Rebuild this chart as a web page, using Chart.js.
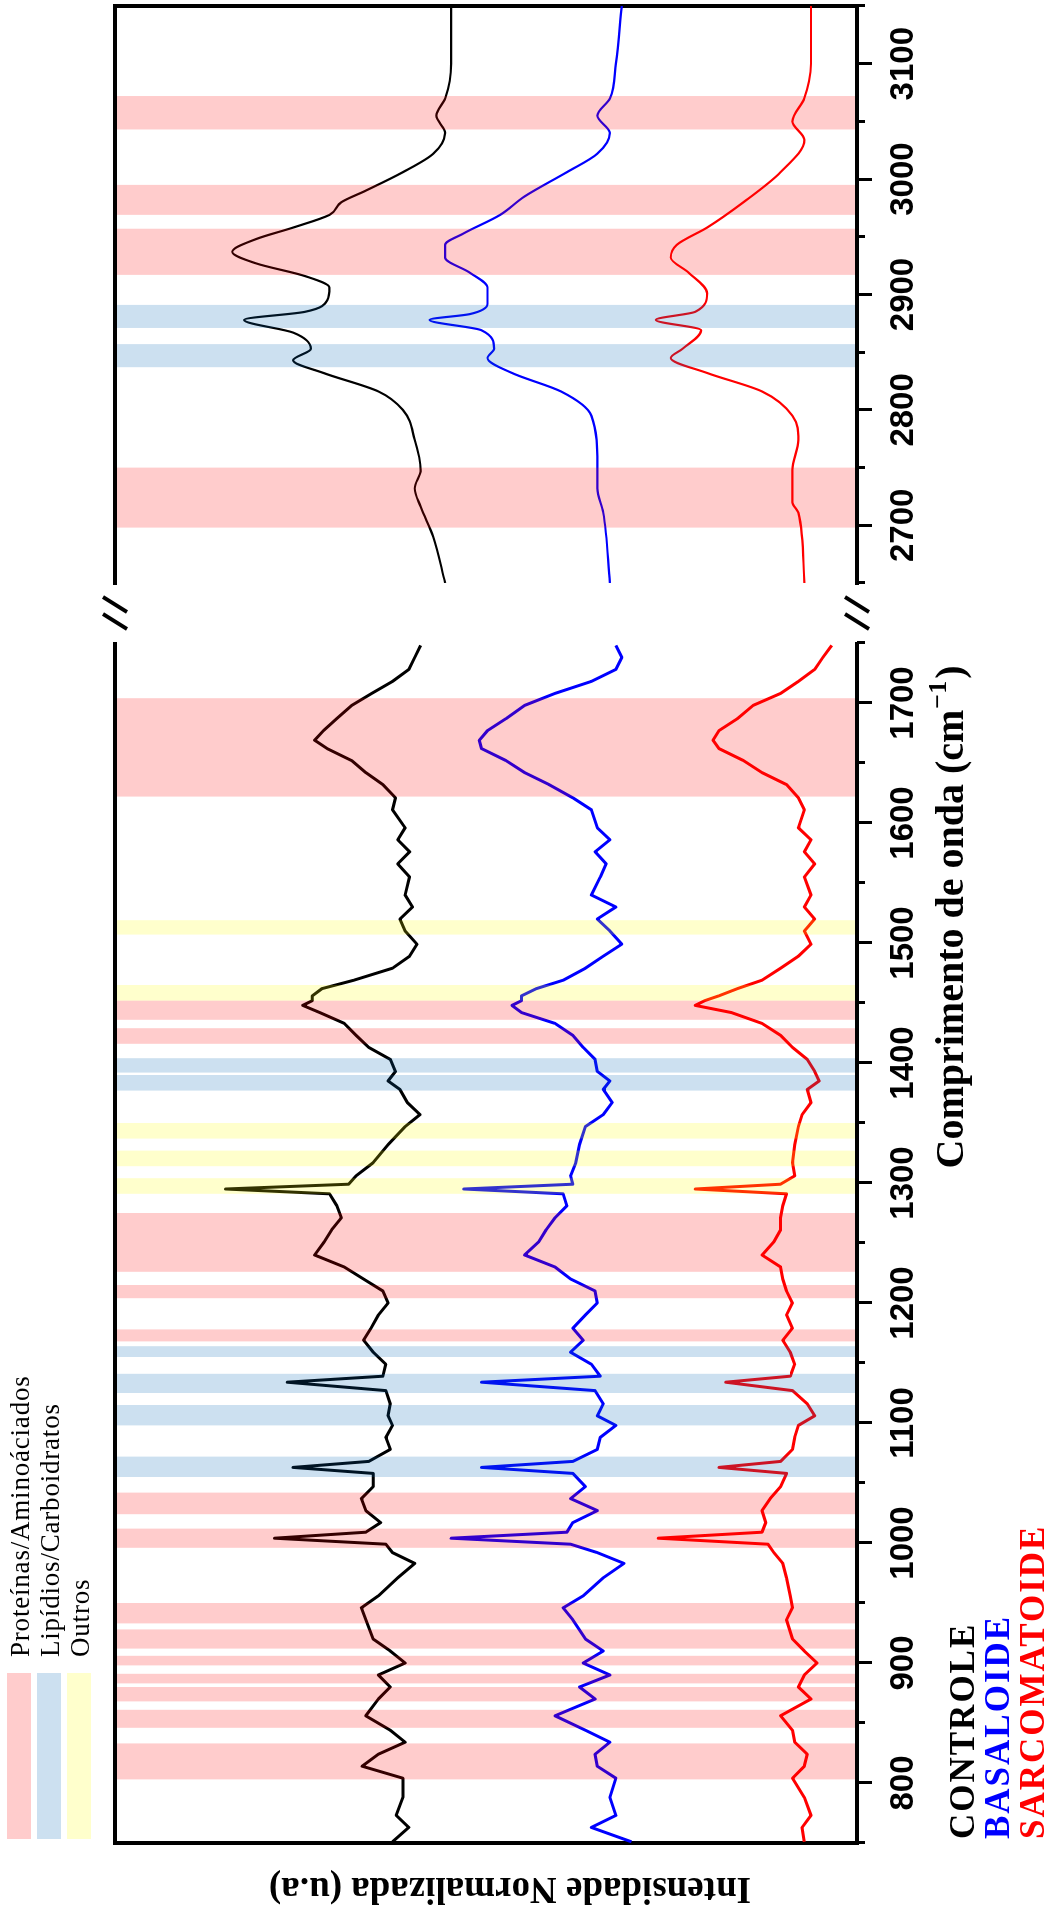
<!DOCTYPE html>
<html><head><meta charset="utf-8">
<script src="https://cdn.jsdelivr.net/npm/chart.js@4.4.1/dist/chart.umd.min.js"></script>
<style>
html,body{margin:0;padding:0;background:#fff;overflow:hidden;width:1046px;height:1912px;}
#stage{position:absolute;left:0;top:0;width:1912px;height:1046px;transform-origin:0 0;transform:translateY(1912px) rotate(-90deg);background:#fff;}
#ca{position:absolute;left:0;top:0;}
#cb{position:absolute;left:1300px;top:0;}
</style></head><body>
<div id="stage"><canvas id="ca" width="1330" height="1046"></canvas><canvas id="cb" width="612" height="1046"></canvas></div>
<script>
// ---------- data ----------
const seriesNames = ['CONTROLE', 'BASALOIDE', 'SARCOMATOIDE'];
const legendLabels = ['Proteínas/Aminoáciados', 'Lipídios/Carboidratos', 'Outros'];
const xTitle = 'Comprimento de onda (cm';
const xTitleSup = '\u22121';
const yTitle = 'Intensidade Normalizada (u.a)';

// fingerprint region (cm-1)
const lowW = [751,763,773,788,804,814,824,834,844,856,
  870,880,890,900,910,920,936,946,956,971,
  983,992,999,1004,1009,1017,1027,1037,1047,1058,
  1063,1068,1078,1088,1098,1106,1116,1127,1134,1139,
  1149,1159,1169,1179,1190,1200,1210,1220,1230,1240,
  1251,1261,1271,1281,1291,1295,1299,1306,1317,1332,
  1347,1357,1367,1378,1385,1393,1403,1413,1423,1433,
  1442,1448,1452,1456,1462,1469,1479,1489,1499,1510,
  1520,1530,1540,1555,1566,1576,1586,1596,1611,1621,
  1632,1642,1652,1662,1669,1677,1687,1698,1708,1718,
  1728,1738,1748];
const lowCtrl = [62.6,60.4,62.1,61.2,61.2,66.7,64.5,60.9,62.9,66.2,
  64.5,62.9,64.5,60.9,62.9,65.2,66.2,66.8,64.5,61.9,
  59.6,62.6,63.5,78.5,66.2,64.2,66.2,66.8,65.2,65.2,
  76.0,65.8,62.9,63.5,62.6,63.2,62.9,63.5,76.8,63.9,
  63.5,65.2,66.5,65.5,64.5,63.2,63.9,66.5,69.1,73.1,
  71.8,70.8,69.5,70.1,71.1,85.1,68.5,67.5,65.2,63.2,
  60.9,58.9,60.6,61.6,63.2,62.2,62.9,65.8,67.5,69.1,
  72.4,74.7,73.4,73.4,72.1,67.8,62.6,60.3,59.3,60.9,
  61.6,59.9,60.9,60.3,61.9,60.3,61.9,60.9,62.6,62.2,
  63.9,66.2,68.1,71.4,73.1,71.9,70.1,68.1,65.4,62.6,
  60.4,59.6,58.8];
const lowBas = [30.4,35.8,32.5,33.3,32.5,35.0,35.3,33.3,36.6,40.7,
  35.3,37.4,33.3,36.9,34.2,36.6,38.3,39.6,36.9,34.2,
  31.4,35.0,38.6,54.7,39.1,38.3,35.0,38.6,36.6,38.3,
  50.6,38.3,35.0,34.6,32.5,35.0,34.2,35.3,50.6,34.6,
  35.8,38.6,36.9,38.3,36.6,35.0,35.3,38.6,40.7,44.8,
  42.9,41.9,40.7,39.1,39.6,53.0,38.3,38.6,37.9,37.4,
  36.6,34.2,33.0,34.2,33.3,35.0,35.3,36.9,38.3,40.7,
  45.2,46.5,45.2,45.2,43.2,39.6,36.6,34.2,31.7,33.3,
  35.0,32.5,35.8,34.6,33.8,35.3,33.3,35.0,35.8,38.3,
  41.5,44.8,47.3,50.6,50.9,49.8,47.3,44.8,40.7,35.8,
  32.5,31.7,32.5];
const lowSar = [7.1,7.4,6.2,7.1,8.7,7.1,6.7,8.4,8.7,10.3,
  6.2,7.9,7.1,5.4,7.1,8.7,9.5,8.7,9.0,9.5,
  10.0,11.2,12.0,26.8,12.8,12.3,12.8,11.7,10.3,9.5,
  18.6,10.3,8.7,8.4,7.9,5.7,6.7,8.7,17.7,9.0,
  8.4,9.0,10.0,8.7,9.5,8.7,9.5,10.0,10.3,12.8,
  11.2,10.3,10.3,10.0,9.5,21.8,10.3,8.4,8.7,8.4,
  7.9,7.4,6.2,6.7,5.1,5.7,6.7,8.7,10.3,12.8,
  16.9,21.8,20.5,18.6,16.1,12.8,10.3,7.9,6.2,7.1,
  5.7,7.1,6.2,7.1,5.7,7.1,6.2,7.9,7.1,7.9,
  9.5,12.8,15.3,18.6,19.4,18.6,16.1,14.0,10.3,7.9,
  5.7,4.6,3.4];

// high-wavenumber region (cm-1)
const upCtrlW = [2650,2690,2716,2732,2748,2774,2800,2816,2832,2843,2853,2867,2878,2885,2895,2906,2916,2927,2937,2948,2958,2969,2980,2990,3006,3022,3040,3055,3070,3100,3150];
const upCtrl = [55.5,57.1,58.8,59.6,58.8,59.6,61.2,64.5,71.9,76.0,73.6,76.0,82.6,74.4,71.4,71.1,74.4,81.0,84.2,81.0,76.0,71.1,69.5,66.2,61.2,57.1,55.5,56.7,55.5,54.7,54.7];
const upBasW = [2650,2711,2732,2753,2795,2816,2832,2845,2853,2869,2878,2883,2892,2906,2919,2932,2943,2953,2969,2985,3006,3022,3040,3055,3070,3100,3150];
const upBas = [33.3,34.2,35.0,35.0,35.8,39.9,46.5,49.8,48.9,50.6,57.6,52.2,49.8,49.8,52.2,55.5,55.5,53.0,48.1,44.8,39.1,35.0,33.3,35.0,33.3,32.5,31.7];
const upSarW = [2650,2711,2720,2732,2748,2774,2795,2816,2832,2845,2853,2869,2878,2885,2901,2919,2932,2943,2958,2980,3006,3034,3050,3070,3100,3150];
const upSar = [7.1,7.9,8.7,8.7,8.7,7.9,8.7,12.8,20.2,25.1,23.5,21.0,27.1,21.8,20.2,22.7,25.1,24.3,20.2,15.3,10.3,7.1,8.7,7.1,6.2,6.2];

// shaded assignment bands [from, to] in cm-1
const lowProtBands = [[803,833],[846,861],[868,880],[883,891],[898,906],[912,928],[933,950],[996,1012],[1024,1042],[1168,1178],[1204,1215],[1226,1275],[1416,1429],[1436,1452],[1622,1704]];
const lowLipBands = [[1055,1072],[1098,1115],[1125,1141],[1155,1164],[1377,1390],[1392,1404]];
const lowOtherBands = [[1291,1304],[1314,1327],[1337,1350],[1452,1465],[1507,1519]];
const upProtBands = [[2698,2750],[2917,2957],[2969,2995],[3043,3072]];
const upLipBands = [[2837,2857],[2871,2891]];
const upOtherBands = [];

const lowMajorTicks = [800,900,1000,1100,1200,1300,1400,1500,1600,1700];
const lowMinorTicks = [750,850,950,1050,1150,1250,1350,1450,1550,1650,1750];
const upMajorTicks = [2700,2800,2900,3000,3100];
const upMinorTicks = [2650,2750,2850,2950,3050,3150];

// ---------- styling ----------
const SERIF = "'Liberation Serif','Times New Roman',serif";
const TICKFONT = {family: "'Liberation Sans Narrow','Liberation Sans',Arial,sans-serif", size: 33, weight: 'bold'};
const seriesColors = ['#000000', '#0000ff', '#ff0000'];
const bandColors = ['rgba(255,0,0,0.2)', 'rgba(0,101,179,0.2)', 'rgba(255,255,0,0.2)'];

function pts(w, v) { return w.map((x, i) => ({x: x, y: v[i]})); }

const bandPlugin = {
  id: 'bands',
  afterDatasetsDraw(chart, args, opts) {
    const {ctx, chartArea: a} = chart;
    const xs = chart.scales.x;
    ctx.save();
    opts.groups.forEach((g, k) => {
      ctx.fillStyle = bandColors[k];
      g.forEach(([lo, hi]) => {
        const p1 = xs.getPixelForValue(lo), p2 = xs.getPixelForValue(hi);
        ctx.fillRect(p1, a.top + 2, p2 - p1, a.bottom - a.top - 4);
      });
    });
    ctx.restore();
  }
};

const decoPlugin = {
  id: 'deco',
  afterDraw(chart, args, opts) {
    if (!opts.on) return;
    const ctx = chart.ctx, a = chart.chartArea;
    ctx.save();
    // axis-break marks
    ctx.strokeStyle = '#000'; ctx.lineWidth = 4; ctx.lineCap = 'butt';
    const mid = a.right + 30;
    [a.top, a.bottom].forEach(e => [mid + 8.5, mid - 8.5].forEach(c => {
      ctx.beginPath(); ctx.moveTo(c + 7.5, e - 12); ctx.lineTo(c - 7.5, e + 12); ctx.stroke();
    }));
    // legend
    ctx.textBaseline = 'alphabetic'; ctx.textAlign = 'left';
    legendLabels.forEach((t, i) => {
      ctx.fillStyle = '#fff'; ctx.fillRect(73, 7 + 30 * i, 166, 24);
      ctx.fillStyle = bandColors[i]; ctx.fillRect(73, 7 + 30 * i, 166, 24);
      ctx.fillStyle = '#000'; ctx.font = '27px ' + SERIF;
      ctx.letterSpacing = '0.8px';
      ctx.fillText(t, 255, 29 + 30 * i);
    });
    // series names
    ctx.letterSpacing = '2px';
    seriesNames.forEach((t, i) => {
      ctx.fillStyle = seriesColors[i]; ctx.font = 'bold 35px ' + SERIF;
      ctx.fillText(t, 73, 974 + 35 * i);
    });
    ctx.letterSpacing = '0px';
    // x axis title with superscript
    ctx.fillStyle = '#000';
    ctx.font = 'bold 40px ' + SERIF; const w1 = ctx.measureText(xTitle).width; const w3 = ctx.measureText(')').width;
    ctx.font = 'bold 26px ' + SERIF; const w2 = ctx.measureText(xTitleSup).width;
    const x0 = 995 - (w1 + w2 + w3 + 3) / 2, base = 963;
    ctx.font = 'bold 40px ' + SERIF; ctx.fillText(xTitle, x0, base);
    ctx.font = 'bold 26px ' + SERIF; ctx.fillText(xTitleSup, x0 + w1 + 1, base - 17);
    ctx.font = 'bold 40px ' + SERIF; ctx.fillText(')', x0 + w1 + w2 + 3, base);
    // y axis title (rotated)
    ctx.save();
    ctx.translate(24, 510); ctx.rotate(-Math.PI / 2);
    ctx.textAlign = 'center'; ctx.textBaseline = 'middle';
    ctx.font = 'bold 37px ' + SERIF; ctx.fillText(yTitle, 0, 0);
    ctx.restore();
    ctx.restore();
  }
};

function makeScales(min, max, major, minor, side) {
  return {
    x: {
      type: 'linear', position: 'bottom', min: min, max: max,
      afterBuildTicks: sc => { sc.ticks = major.map(v => ({value: v})); },
      afterFit: sc => { sc.height = 189; },
      grid: {display: true, drawOnChartArea: false, drawTicks: true, tickLength: 15, tickWidth: 3, tickColor: '#000'},
      border: {display: true, width: 4, color: '#000'},
      ticks: {color: '#000', font: TICKFONT, padding: 12, maxRotation: 0, autoSkip: false, callback: v => String(v)}
    },
    xMinor: {
      type: 'linear', position: {y: 0}, min: min, max: max,
      afterBuildTicks: sc => { sc.ticks = minor.map(v => ({value: v})); },
      grid: {display: true, drawOnChartArea: false, drawTicks: true, tickLength: 8, tickWidth: 3, tickColor: '#000'},
      border: {display: false},
      ticks: {display: false}
    },
    xTop: {
      type: 'linear', position: 'top', min: min, max: max,
      afterFit: sc => { sc.height = 0; },
      grid: {display: false},
      border: {display: true, width: 4, color: '#000'},
      ticks: {display: false}
    },
    y: {
      type: 'linear', position: side, min: 0, max: 100,
      afterFit: sc => { sc.width = side === 'left' ? 69 : 6; },
      grid: {display: false},
      border: {display: true, width: 4, color: '#000'},
      ticks: {display: false}
    }
  };
}

function makeDatasets(ws, is, width, smooth) {
  return ws.map((w, k) => ({
    label: seriesNames[k], data: pts(w, is[k]), borderColor: seriesColors[k],
    borderWidth: width, pointRadius: 0, tension: smooth ? 0.4 : 0,
    cubicInterpolationMode: smooth ? 'monotone' : 'default',
    borderJoinStyle: 'round',
    fill: false, xAxisID: 'x', yAxisID: 'y'
  }));
}

Chart.register(bandPlugin, decoPlugin);

new Chart(document.getElementById('ca'), {
  type: 'line',
  data: {datasets: makeDatasets([lowW, lowW, lowW], [lowCtrl, lowBas, lowSar], 3, false)},
  options: {
    responsive: false, animation: false, events: [],
    layout: {padding: {top: 115, left: 0, right: 61, bottom: 0}},
    scales: makeScales(750, 1750, lowMajorTicks, lowMinorTicks, 'left'),
    plugins: {legend: {display: false}, tooltip: {enabled: false},
      bands: {groups: [lowProtBands, lowLipBands, lowOtherBands]}, deco: {on: true}}
  }
});

new Chart(document.getElementById('cb'), {
  type: 'line',
  data: {datasets: makeDatasets([upCtrlW, upBasW, upSarW], [upCtrl, upBas, upSar], 2.2, true)},
  options: {
    responsive: false, animation: false, events: [],
    layout: {padding: {top: 115, left: 29, right: 0, bottom: 0}},
    scales: makeScales(2650, 3150, upMajorTicks, upMinorTicks, 'right'),
    plugins: {legend: {display: false}, tooltip: {enabled: false},
      bands: {groups: [upProtBands, upLipBands, upOtherBands]}, deco: {on: false}}
  }
});
</script></body></html>
